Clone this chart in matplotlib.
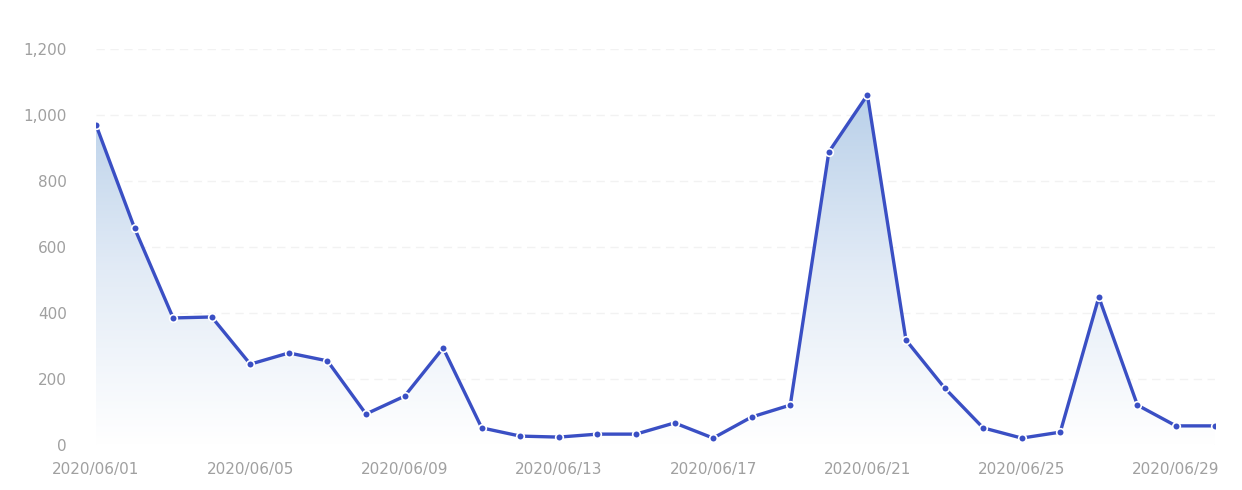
import numpy as np
import pandas as pd
import matplotlib.pyplot as plt
from matplotlib.patches import PathPatch

# ==========================
# Data
# ==========================
dates = pd.date_range("2020-06-01", "2020-06-30", freq="D")
values = [970, 657, 385, 388, 245, 279, 255, 94, 148, 294,
          52, 27, 24, 33, 33, 67, 21, 85, 121, 888,
          1061, 318, 173, 52, 21, 39, 448, 121, 58, 58]
date_labels = [d.strftime("%Y/%m/%d") for d in dates]

line_color = "#3a4fc4"
text_color = "#a0a0a0"

fig = plt.figure(figsize=(12.42, 4.9), dpi=100)
ax = fig.add_axes([0.0773, 0.0918, 0.9006, 0.8082])

x = np.arange(len(values))

# gradient area under the line
fill = ax.fill_between(x, values, 0, color="none", lw=0)
path = fill.get_paths()[0]
patch = PathPatch(path, facecolor="none", edgecolor="none")
ax.add_patch(patch)
grad = np.linspace(1, 0, 256).reshape(-1, 1)
cmap = plt.matplotlib.colors.LinearSegmentedColormap.from_list(
    "area", ["#ffffff", "#e2ebf6", "#b9d0e9"])
img = ax.imshow(grad, cmap=cmap, aspect="auto", origin="upper",
                extent=[x[0], x[-1], 0, max(values)], zorder=1)
img.set_clip_path(patch)

ax.plot(x, values, color=line_color, lw=2.4, zorder=3,
        marker="o", markersize=5.5, markerfacecolor=line_color,
        markeredgecolor="white", markeredgewidth=1.2)

ax.set_xlim(x[0], x[-1])
ax.set_ylim(0, 1200)

ax.set_yticks(range(0, 1201, 200))
ax.set_yticklabels([f"{v:,}" for v in range(0, 1201, 200)])
ax.set_xticks(x[::4])
ax.set_xticklabels(date_labels[::4])

for y in range(200, 1201, 200):
    ax.axhline(y, color="#f2f2f2", lw=1, ls=(0, (6, 4)), zorder=0)
ax.axhline(0, color="#e3e6ee", lw=1, zorder=0)

for s in ax.spines.values():
    s.set_visible(False)
ax.tick_params(length=0, labelsize=11, labelcolor=text_color)
ax.tick_params(axis="y", pad=21)
ax.tick_params(axis="x", pad=12)

plt.savefig("out.png", dpi=100)
